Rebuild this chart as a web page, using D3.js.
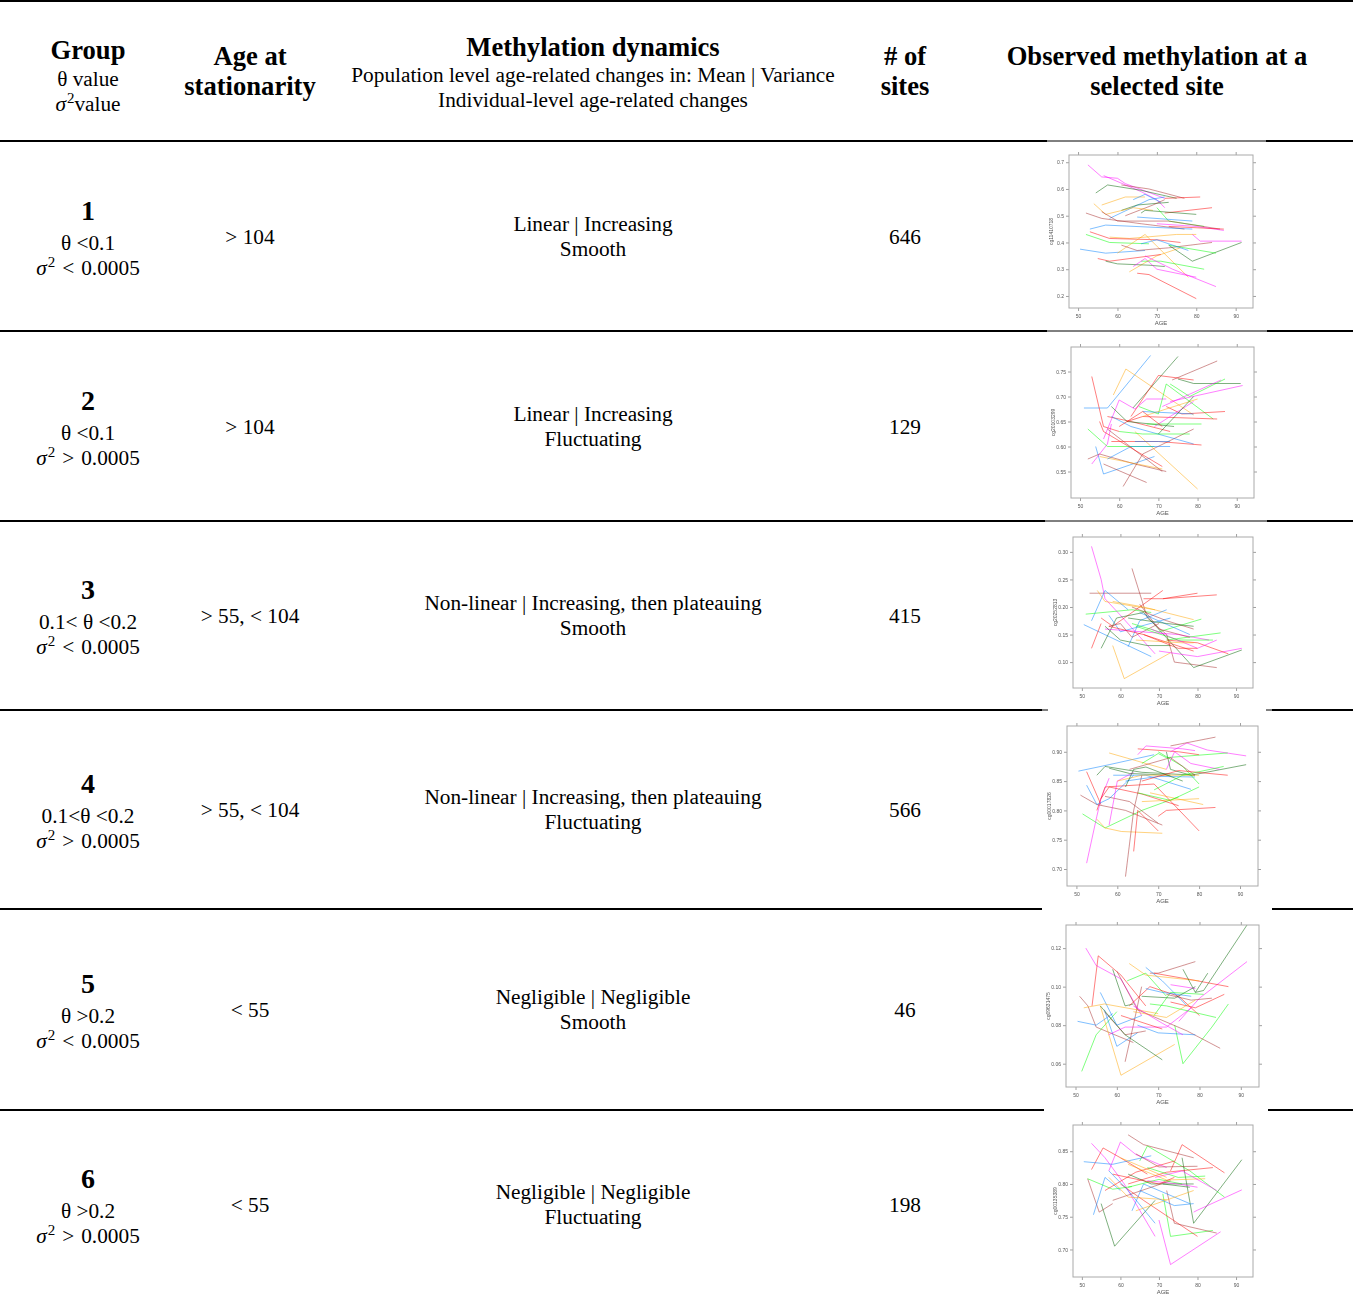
<!DOCTYPE html>
<html>
<head>
<meta charset="utf-8">
<script src="https://cdn.jsdelivr.net/npm/d3@7"></script>
<style>
  body { margin: 0; background: #fff; }
  svg { display: block; }
</style>
</head>
<body>
<svg id="table" width="1353" height="1294"></svg>
<script>
// ---- Table content ----
const groups = ["1", "2", "3", "4", "5", "6"];
const thetaLabels = ["θ <0.1", "θ <0.1", "0.1< θ <0.2", "0.1<θ <0.2", "θ >0.2", "θ >0.2"];
const varianceOps = ["<", ">", "<", ">", "<", ">"];
const varianceCut = "0.0005";
const stationarityAges = ["> 104", "> 104", "> 55, < 104", "> 55, < 104", "< 55", "< 55"];
const populationChanges = [
  "Linear | Increasing", "Linear | Increasing",
  "Non-linear | Increasing, then plateauing", "Non-linear | Increasing, then plateauing",
  "Negligible | Negligible", "Negligible | Negligible"
];
const individualChanges = ["Smooth", "Fluctuating", "Smooth", "Fluctuating", "Smooth", "Fluctuating"];
const siteCounts = [646, 129, 415, 566, 46, 198];
const siteProbes = ["cg11410718", "cg20103299", "cg20252813", "cg00017826", "cg09631475", "cg00135389"];

// ---- Small-multiple axes ----
const ageTicks = [50, 60, 70, 80, 90];
const methTicks = [
  [0.2, 0.3, 0.4, 0.5, 0.6, 0.7],
  [0.55, 0.60, 0.65, 0.70, 0.75],
  [0.10, 0.15, 0.20, 0.25, 0.30],
  [0.70, 0.75, 0.80, 0.85, 0.90],
  [0.06, 0.08, 0.10, 0.12],
  [0.70, 0.75, 0.80, 0.85]
];

// Per-individual trajectories: [subject colour slot, age1, value1, age2, value2, ...]
const site1 = [
  [1, 52.5,0.69, 56,0.645, 60,0.64, 62,0.62, 72,0.565],
  [1, 56.5,0.65, 66,0.59, 70,0.56, 72,0.53],
  [2, 54.5,0.585, 57.5,0.615, 66,0.595, 75,0.565],
  [6, 61,0.615, 68,0.6, 77,0.565],
  [3, 72,0.565, 81,0.57],
  [4, 56,0.54, 62,0.57, 67,0.57],
  [0, 64,0.56, 67,0.58, 71,0.55],
  [0, 58,0.49, 68,0.56, 72,0.57],
  [2, 61,0.52, 65,0.54, 73,0.55],
  [6, 62,0.5, 69,0.54, 72,0.56],
  [4, 54,0.545, 57,0.505, 64,0.53, 69,0.52],
  [6, 52,0.51, 56,0.49, 66,0.47, 77,0.45],
  [3, 72,0.51, 84,0.53],
  [2, 66,0.51, 67,0.52, 80,0.505],
  [5, 70,0.53, 73,0.48, 82,0.46],
  [6, 56,0.515, 60,0.48, 73,0.48, 86,0.45],
  [0, 53,0.45, 57,0.465, 79,0.45],
  [0, 65,0.495, 79,0.48],
  [1, 70,0.47, 80,0.46, 87,0.445],
  [3, 73,0.46, 87,0.45],
  [4, 58,0.42, 63,0.415, 75,0.43, 80,0.43],
  [3, 53,0.44, 55,0.43, 58,0.415, 70,0.41, 76,0.4],
  [5, 52,0.43, 58,0.4, 68,0.395],
  [0, 50.5,0.375, 57,0.36, 67,0.37],
  [4, 60,0.36, 67,0.43, 78,0.27],
  [4, 63,0.29, 70,0.35, 76,0.38],
  [6, 61,0.39, 65,0.37, 73,0.38, 84,0.4],
  [2, 73,0.39, 79,0.33, 91.5,0.4],
  [1, 79,0.43, 81,0.405, 91.5,0.405],
  [5, 73,0.39, 85,0.36],
  [3, 55,0.34, 58,0.33, 71,0.355],
  [2, 57,0.33, 60,0.32, 68,0.315, 72,0.31],
  [5, 66,0.33, 71,0.33, 82,0.3],
  [1, 67,0.35, 74,0.3, 85,0.235],
  [1, 64,0.31, 67,0.34, 70,0.3, 80,0.27],
  [3, 65,0.285, 68,0.28, 80,0.19],
  [0, 66,0.395, 70,0.41, 78,0.37]
];
const site2 = [
  [0, 51,0.677, 57,0.677, 68,0.782],
  [4, 58.5,0.703, 61.7,0.755, 79,0.663],
  [2, 63.5,0.677, 75,0.78],
  [6, 73.5,0.733, 85,0.771],
  [3, 63,0.66, 70,0.742, 79,0.733],
  [2, 75,0.735, 79,0.726, 91,0.726],
  [1, 71,0.68, 86,0.733],
  [5, 73,0.725, 78,0.7, 87,0.735],
  [1, 73,0.69, 91.5,0.722],
  [3, 53,0.74, 56,0.64, 60,0.63],
  [1, 56,0.615, 60,0.693, 64,0.675, 67,0.695, 72,0.695],
  [0, 54,0.6, 56,0.545, 69,0.58],
  [1, 53,0.565, 57,0.605, 58,0.645],
  [6, 52,0.575, 55,0.585, 64,0.565, 72,0.55],
  [4, 55,0.58, 71,0.555],
  [6, 57,0.635, 71,0.55],
  [6, 61,0.52, 66,0.585, 79,0.635],
  [6, 56,0.565, 67,0.528],
  [4, 64,0.63, 80,0.515],
  [5, 52,0.635, 57,0.6, 69,0.6],
  [0, 57,0.575, 63,0.6, 73,0.6],
  [3, 55,0.65, 56,0.63, 71,0.56],
  [3, 57,0.66, 63,0.65, 73,0.63],
  [0, 58,0.66, 63,0.64, 79,0.605],
  [3, 58,0.61, 70,0.61, 81,0.603],
  [5, 60,0.63, 66,0.625, 78,0.625],
  [5, 65,0.68, 70,0.665, 72,0.725, 84,0.655],
  [2, 58,0.68, 62,0.65, 74,0.64],
  [3, 62,0.65, 66,0.66, 85,0.655],
  [3, 72,0.68, 76,0.665, 87,0.67],
  [4, 66,0.66, 80,0.695],
  [0, 66,0.67, 79,0.665],
  [1, 69,0.64, 79,0.69],
  [5, 67,0.645, 81,0.645],
  [2, 70,0.625, 79,0.7],
  [3, 60,0.64, 66,0.67, 71,0.64],
  [0, 64,0.61, 73,0.61]
];
const site3 = [
  [1, 52.5,0.31, 55,0.25, 56,0.215, 60,0.185, 69,0.115],
  [6, 52,0.225, 68,0.225],
  [4, 54,0.23, 56,0.21, 69,0.195],
  [0, 52.5,0.175, 56,0.23, 62,0.195],
  [3, 55,0.18, 58,0.165, 71,0.23],
  [3, 66,0.215, 71,0.215, 85,0.222],
  [3, 71,0.215, 80,0.225],
  [6, 63,0.27, 67,0.18, 72,0.15, 74,0.1, 85,0.09],
  [5, 51,0.187, 63,0.195, 68,0.19],
  [4, 58,0.21, 66,0.2, 79,0.177],
  [0, 50.5,0.168, 68,0.11],
  [4, 58,0.13, 61,0.07, 73,0.117],
  [3, 52.5,0.125, 55,0.17],
  [2, 55,0.125, 59,0.18, 66,0.19, 79,0.09, 91.5,0.122],
  [0, 57,0.185, 60,0.155, 73,0.18],
  [0, 62,0.128, 65,0.175, 72,0.195],
  [6, 57,0.165, 60,0.17, 63,0.145, 70,0.17],
  [5, 63,0.17, 70,0.155, 81,0.178],
  [1, 56,0.16, 75,0.15, 83,0.14],
  [2, 56,0.165, 60,0.14, 67,0.13, 73,0.13],
  [3, 57,0.165, 66,0.15, 79,0.12],
  [1, 70,0.12, 80,0.11, 91.5,0.125],
  [5, 72,0.14, 86,0.153],
  [3, 72,0.14, 80,0.135, 88,0.115],
  [6, 63,0.2, 72,0.175, 79,0.16],
  [0, 65,0.19, 78,0.15],
  [2, 62,0.18, 72,0.17, 79,0.165],
  [1, 68,0.16, 80,0.125, 85,0.14],
  [4, 64,0.14, 76,0.135, 79,0.135],
  [5, 64,0.165, 75,0.14, 84,0.14],
  [3, 66,0.15, 75,0.125, 80,0.125],
  [6, 65,0.205, 70,0.16, 78,0.145]
];
const site4 = [
  [0, 50.5,0.867, 58,0.878, 69,0.895],
  [4, 58,0.898, 72,0.87],
  [3, 65,0.905, 75,0.9, 80,0.895],
  [1, 65,0.895, 67,0.91, 76,0.905, 79,0.902],
  [1, 73,0.9, 77,0.915, 82,0.903, 91.5,0.893],
  [6, 73,0.91, 84,0.925],
  [5, 66,0.88, 70,0.897, 72,0.89, 87,0.898],
  [2, 72,0.9, 73,0.87, 78,0.86, 91.5,0.878],
  [2, 55,0.86, 57,0.875, 66,0.865, 79,0.86],
  [2, 58,0.872, 63,0.863, 73,0.86],
  [3, 52.5,0.866, 56,0.81],
  [1, 52.5,0.71, 55,0.79, 56,0.82, 58,0.855],
  [6, 51,0.826, 55,0.81, 62,0.8, 71,0.775],
  [5, 51.5,0.794, 57,0.77, 66,0.8, 75,0.823],
  [4, 55,0.785, 57,0.77, 61,0.764, 71,0.761],
  [6, 62,0.687, 64,0.8, 66,0.86],
  [3, 64,0.73, 65,0.8, 70,0.765],
  [6, 57,0.824, 63,0.815, 70,0.778],
  [3, 55,0.8, 57,0.84, 69,0.845, 80,0.765],
  [0, 52.5,0.843, 55,0.81, 58,0.82, 64,0.86],
  [0, 59,0.86, 67,0.86, 78,0.836],
  [1, 58,0.775, 60,0.85, 64,0.865],
  [3, 56,0.82, 58,0.84, 66,0.828, 75,0.808],
  [4, 60,0.85, 66,0.86, 80,0.86],
  [3, 70,0.79, 72,0.8, 84,0.805],
  [4, 68,0.83, 81,0.81],
  [0, 62,0.85, 70,0.858, 79,0.857],
  [5, 65,0.83, 73,0.817, 80,0.84],
  [2, 62,0.84, 64,0.87, 67,0.874, 76,0.85],
  [1, 72,0.87, 74,0.9, 78,0.88, 85,0.87],
  [5, 70,0.9, 76,0.875, 80,0.845],
  [3, 66,0.85, 75,0.868, 87,0.86],
  [6, 63,0.87, 73,0.89, 79,0.86],
  [5, 69,0.835, 76,0.86, 86,0.875],
  [4, 66,0.815, 80,0.82]
];
const site5 = [
  [1, 52.5,0.12, 55,0.111, 61,0.104, 66,0.085],
  [3, 54,0.09, 55.5,0.116, 61,0.106, 67,0.09],
  [2, 79,0.097, 81,0.098, 91.5,0.132],
  [1, 75,0.082, 80,0.094, 91.5,0.113],
  [6, 68,0.107, 70,0.107, 79,0.113],
  [0, 67,0.11, 71,0.103, 77,0.09],
  [5, 62.5,0.103, 67,0.107, 72,0.095],
  [3, 69,0.107, 77,0.104, 87,0.1],
  [4, 63,0.112, 67,0.106, 80,0.103],
  [2, 76,0.109, 79,0.097, 82,0.107],
  [6, 51,0.095, 53,0.09, 55,0.079, 64,0.071],
  [5, 51.5,0.056, 55,0.075, 60,0.087],
  [4, 56,0.09, 61,0.054, 74,0.07],
  [5, 74,0.08, 76,0.06, 83,0.079, 87,0.091],
  [0, 50.5,0.082, 55,0.08, 59,0.086],
  [0, 57,0.088, 60,0.069, 65,0.076],
  [6, 57,0.087, 62,0.075, 67,0.077],
  [6, 62,0.061, 64,0.08, 66,0.1],
  [2, 56,0.09, 62,0.075, 71,0.062],
  [2, 59,0.109, 62,0.09, 64,0.091],
  [0, 56,0.097, 60,0.08, 66,0.085],
  [6, 60,0.108, 65,0.088, 77,0.077, 85,0.068],
  [3, 63,0.09, 68,0.1, 75,0.095, 80,0.085],
  [5, 69,0.085, 73,0.097, 81,0.096],
  [1, 58,0.075, 62,0.079, 72,0.079, 78,0.089],
  [0, 65,0.08, 70,0.076, 79,0.075],
  [4, 52,0.089, 57,0.091, 70,0.086],
  [1, 64,0.09, 71,0.081, 76,0.075],
  [3, 73,0.092, 79,0.089, 86,0.096],
  [0, 67,0.099, 71,0.097, 78,0.095],
  [5, 68,0.091, 72,0.09, 84,0.084],
  [6, 72,0.096, 78,0.093, 83,0.094],
  [4, 64,0.087, 72,0.084, 79,0.093],
  [1, 73,0.101, 79,0.099],
  [2, 66,0.095, 74,0.094, 79,0.1],
  [3, 61,0.085, 71,0.078]
];
const site6 = [
  [6, 62,0.875, 66,0.86, 79,0.84],
  [3, 73,0.82, 76,0.86, 87,0.817],
  [1, 52.5,0.862, 56,0.84, 61,0.8, 69,0.72],
  [1, 57,0.82, 60,0.864, 64,0.845, 72,0.825],
  [3, 52.5,0.822, 55.5,0.855, 60,0.84, 67,0.815],
  [5, 65,0.835, 67,0.858, 78,0.82, 87,0.78],
  [0, 50.5,0.834, 58,0.83, 68,0.843],
  [2, 55,0.77, 58.5,0.705, 69,0.775],
  [2, 76,0.84, 79,0.74, 91.5,0.837],
  [1, 70,0.745, 73,0.677, 86,0.727],
  [5, 71,0.785, 73,0.72, 84,0.729],
  [3, 60,0.8, 66,0.775, 80,0.72],
  [6, 72,0.79, 74,0.74, 85,0.725],
  [6, 51.5,0.808, 54.5,0.757, 58,0.77],
  [1, 79,0.757, 80,0.76, 91.5,0.791],
  [0, 53,0.753, 56,0.81, 60,0.79],
  [0, 57,0.82, 62,0.79, 69,0.74],
  [0, 63,0.759, 66,0.8, 78,0.77],
  [4, 57,0.81, 62,0.78, 72,0.776],
  [4, 64,0.759, 79,0.79],
  [5, 51.5,0.808, 58,0.792, 63,0.796],
  [3, 56,0.79, 64,0.818, 74,0.835],
  [3, 62,0.8, 72,0.818, 84,0.825],
  [2, 62,0.815, 68,0.8, 79,0.8],
  [5, 67,0.825, 75,0.81, 82,0.812],
  [4, 62,0.83, 72,0.806, 82,0.808],
  [1, 67,0.805, 75,0.8, 80,0.795],
  [6, 58,0.775, 68,0.795, 73,0.805],
  [0, 65,0.79, 74,0.767, 79,0.77],
  [1, 69,0.81, 76,0.82, 85,0.79],
  [5, 62,0.795, 70,0.807, 76,0.8],
  [3, 58,0.815, 70,0.8, 74,0.81],
  [2, 71,0.8, 78,0.795],
  [4, 60,0.84, 72,0.81],
  [6, 64,0.846, 70,0.826, 80,0.827]
];
const trajectories = [site1, site2, site3, site4, site5, site6];

// ---- Layout & styling ----
const W = 1353;
const serif = "'Liberation Serif', 'Times New Roman', serif";
const sans = "'Liberation Sans', Arial, sans-serif";
const subjectColours = ["#0080ff", "#ff00ff", "#006400", "#ff0000", "#ffa500", "#00ff00", "#a52a2a"];
const colX = { group: 88, age: 250, dyn: 593, sites: 905, obs: 1157 };
const rowMid = [237, 427, 616, 810, 1010, 1205];
const ageDomain = [47.7, 94.4];
const bodySize = 21.3, headSize = 26.6;
const panelBoxes = [
  { x0: 1069, x1: 1253, y0: 155, y1: 308, dom: [0.155, 0.727], fmt: ".1f" },
  { x0: 1071, x1: 1254, y0: 347, y1: 498, dom: [0.497, 0.799], fmt: ".2f" },
  { x0: 1073, x1: 1253, y0: 537, y1: 688, dom: [0.053, 0.327], fmt: ".2f" },
  { x0: 1067, x1: 1258, y0: 726, y1: 886, dom: [0.671, 0.944], fmt: ".2f" },
  { x0: 1066, x1: 1259, y0: 925, y1: 1087, dom: [0.0479, 0.132], fmt: ".2f" },
  { x0: 1073, x1: 1253, y0: 1125, y1: 1277, dom: [0.658, 0.890], fmt: ".2f" }
];
// Horizontal rules: [y, segments of [x0, x1, weight]]
const rules = [
  [1,    [[0, W, 2]]],
  [141,  [[0, 1047, 2], [1047, 1266, 1], [1266, W, 2]]],
  [331,  [[0, 1047, 2], [1047, 1267, 1], [1267, W, 2]]],
  [521,  [[0, 1045, 2], [1045, 1267, 1], [1267, W, 2]]],
  [710,  [[0, 1042, 2], [1042, 1048, 1], [1266, 1272, 1], [1272, W, 2]]],
  [909,  [[0, 1042, 2], [1272, W, 2]]],
  [1110, [[0, 1044, 2], [1268, W, 2]]]
];

const svg = d3.select("#table");
const defs = svg.append("defs");
defs.append("filter").attr("id", "soft")
  .append("feGaussianBlur").attr("stdDeviation", 0.35);

// rules
rules.forEach(([y, segs]) => {
  svg.selectAll(null).data(segs).join("line")
    .attr("x1", d => d[0]).attr("x2", d => d[1])
    .attr("y1", y).attr("y2", y)
    .attr("stroke", "#000").attr("stroke-width", d => d[2]);
});

function text(x, y, str, size, bold) {
  return svg.append("text")
    .attr("x", x).attr("y", y)
    .attr("text-anchor", "middle")
    .attr("font-family", serif)
    .attr("font-size", size)
    .attr("font-weight", bold ? "bold" : "normal")
    .attr("fill", "#000")
    .text(str);
}
// variance bound written as σ² with a superscript
function sigmaLine(x, y, op, tail) {
  const t = svg.append("text")
    .attr("x", x).attr("y", y)
    .attr("text-anchor", "middle")
    .attr("font-family", serif)
    .attr("font-size", bodySize)
    .attr("fill", "#000");
  t.append("tspan").attr("font-style", "italic").text("σ");
  t.append("tspan").attr("font-size", 15).attr("dy", -8).attr("dx", 1).text("2");
  if (op) {
    t.append("tspan").attr("dy", 8).attr("dx", 7).text(op);
    t.append("tspan").attr("dx", 7).text(tail);
  } else {
    t.append("tspan").attr("dy", 8).text(tail);
  }
  return t;
}

// header
text(colX.group, 59, "Group", headSize, true);
text(colX.group, 86, "θ value", bodySize);
sigmaLine(colX.group, 111, null, "value");
text(colX.age, 65, "Age at", headSize, true);
text(colX.age, 95, "stationarity", headSize, true);
text(colX.dyn, 56, "Methylation dynamics", headSize, true);
text(colX.dyn, 82, "Population level age-related changes in: Mean | Variance", bodySize);
text(colX.dyn, 107, "Individual-level age-related changes", bodySize);
text(colX.sites, 65, "# of", headSize, true);
text(colX.sites, 95, "sites", headSize, true);
text(colX.obs, 65, "Observed methylation at a", headSize, true);
text(colX.obs, 95, "selected site", headSize, true);

// body rows
groups.forEach((g, i) => {
  const m = rowMid[i];
  text(colX.group, m - 17, g, 28, true);
  text(colX.group, m + 13, thetaLabels[i], bodySize);
  sigmaLine(colX.group, m + 38, varianceOps[i], varianceCut);
  text(colX.age, m + 7, stationarityAges[i], bodySize);
  text(colX.dyn, m - 6, populationChanges[i], bodySize);
  text(colX.dyn, m + 19, individualChanges[i], bodySize);
  text(colX.sites, m + 7, siteCounts[i], bodySize);
});

// small multiples: observed methylation trajectories per individual
const line = d3.line();
trajectories.forEach((lines, i) => {
  const b = panelBoxes[i];
  const x = d3.scaleLinear().domain(ageDomain).range([b.x0, b.x1]);
  const y = d3.scaleLinear().domain(b.dom).range([b.y1, b.y0]);
  const g = svg.append("g").attr("filter", "url(#soft)");
  const tickCol = "#888";

  // trajectories
  g.append("g").selectAll("path").data(lines).join("path")
    .attr("d", d => {
      const pts = [];
      for (let k = 1; k < d.length; k += 2) pts.push([x(d[k]), y(d[k + 1])]);
      return line(pts);
    })
    .attr("fill", "none")
    .attr("stroke", d => subjectColours[d[0]])
    .attr("stroke-opacity", 0.5)
    .attr("stroke-width", 1);

  // axes on all four sides, labels on left and bottom only
  const fmt = d3.format(b.fmt);
  const axes = [
    [d3.axisBottom(x).tickValues(ageTicks).tickSize(3).tickPadding(3), `translate(0,${b.y1})`],
    [d3.axisTop(x).tickValues(ageTicks).tickSize(3).tickFormat(""), `translate(0,${b.y0})`],
    [d3.axisLeft(y).tickValues(methTicks[i]).tickSize(3).tickPadding(2).tickFormat(fmt), `translate(${b.x0},0)`],
    [d3.axisRight(y).tickValues(methTicks[i]).tickSize(3).tickFormat(""), `translate(${b.x1},0)`]
  ];
  axes.forEach(([ax, tr]) => {
    const a = g.append("g").attr("transform", tr).call(ax);
    a.select(".domain").remove();
    a.selectAll(".tick line").attr("stroke", tickCol).attr("stroke-width", 0.8);
    a.selectAll(".tick text").attr("font-family", sans).attr("font-size", 5).attr("fill", "#555");
  });

  // panel frame
  g.append("rect")
    .attr("x", b.x0).attr("y", b.y0)
    .attr("width", b.x1 - b.x0).attr("height", b.y1 - b.y0)
    .attr("fill", "none").attr("stroke", "#aaa").attr("stroke-width", 1);

  // axis titles
  g.append("text")
    .attr("x", (b.x0 + b.x1) / 2).attr("y", b.y1 + 17)
    .attr("text-anchor", "middle")
    .attr("font-family", sans).attr("font-size", 6).attr("fill", "#555")
    .text("AGE");
  g.append("text")
    .attr("transform", `translate(${b.x0 - 16},${(b.y0 + b.y1) / 2}) rotate(-90)`)
    .attr("text-anchor", "middle")
    .attr("font-family", sans).attr("font-size", 5).attr("fill", "#555")
    .text(siteProbes[i]);
});
</script>
</body>
</html>
